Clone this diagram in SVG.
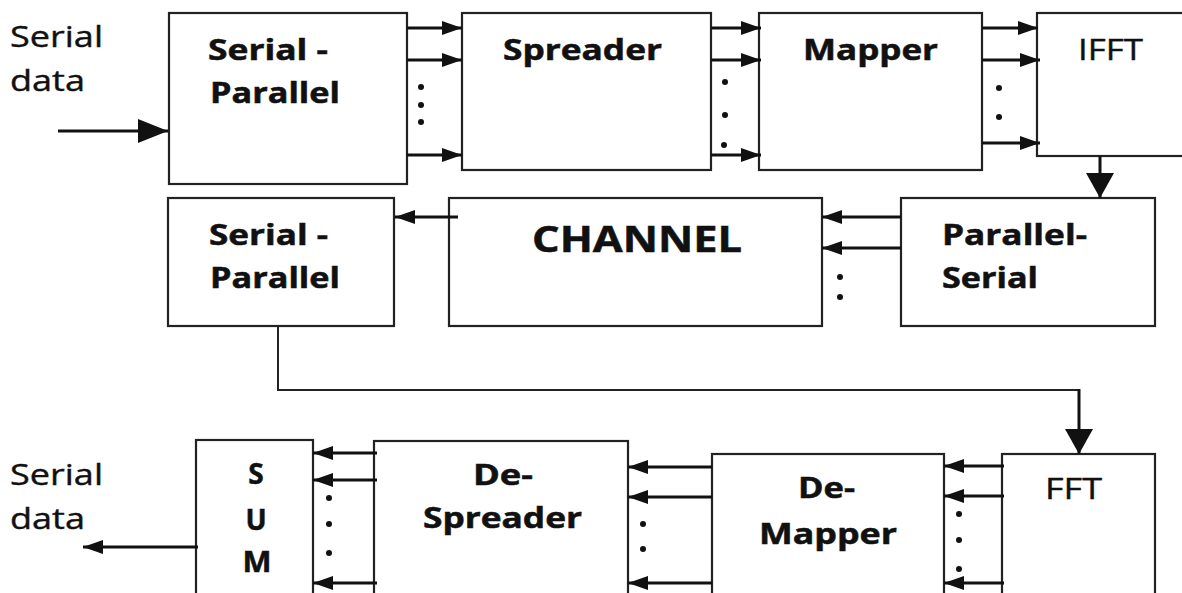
<svg xmlns="http://www.w3.org/2000/svg" width="1182" height="593" viewBox="0 0 1182 593">
<style>
.box{fill:#fff;stroke:#222;stroke-width:2.2}
.t{font-family:"Open Sans","Liberation Sans",sans-serif;font-size:29px;fill:#111;stroke:#111;stroke-width:0.4}
.b{font-weight:bold;font-size:28px;stroke-width:0.5}
.ar{stroke:#111;stroke-width:3;fill:none}
.thin{stroke:#222;stroke-width:2;fill:none}
.dot{fill:#111}
</style>
<defs>
<marker id="ah" markerUnits="userSpaceOnUse" markerWidth="22" markerHeight="16" refX="20" refY="7" orient="auto">
<path d="M0,0 L20,7 L0,14 z" fill="#111"/>
</marker>
<marker id="ahBig" markerUnits="userSpaceOnUse" markerWidth="32" markerHeight="26" refX="30" refY="12" orient="auto">
<path d="M0,0 L30,12 L0,24 z" fill="#111"/>
</marker>
<marker id="ahDown" markerUnits="userSpaceOnUse" markerWidth="28" markerHeight="30" refX="25" refY="14" orient="auto">
<path d="M0,0 L25,14 L0,28 z" fill="#111"/>
</marker>
</defs>

<text class="t" x="10" y="47" textLength="93" lengthAdjust="spacingAndGlyphs">Serial</text>
<text class="t" x="10" y="91" textLength="75" lengthAdjust="spacingAndGlyphs">data</text>
<text class="t" x="10" y="485" textLength="93" lengthAdjust="spacingAndGlyphs">Serial</text>
<text class="t" x="10" y="529" textLength="75" lengthAdjust="spacingAndGlyphs">data</text>

<g id="sp1">
<rect class="box" x="169" y="13" width="238" height="171"/>
<text class="t b" x="208" y="60" textLength="120" lengthAdjust="spacingAndGlyphs">Serial -</text>
<text class="t b" x="210" y="103" textLength="130" lengthAdjust="spacingAndGlyphs">Parallel</text>
</g>
<g id="spreader">
<rect class="box" x="462" y="13" width="249" height="157"/>
<text class="t b" x="503" y="60" textLength="159" lengthAdjust="spacingAndGlyphs">Spreader</text>
</g>
<g id="mapper">
<rect class="box" x="759" y="13" width="223" height="157"/>
<text class="t b" x="803" y="60" textLength="135" lengthAdjust="spacingAndGlyphs">Mapper</text>
</g>
<g id="ifft">
<rect class="box" x="1037" y="13" width="160" height="143"/>
<text class="t" x="1078" y="60" textLength="65" lengthAdjust="spacingAndGlyphs">IFFT</text>
</g>
<g id="ps">
<rect class="box" x="901" y="198" width="254" height="128"/>
<text class="t b" x="942" y="245" textLength="145" lengthAdjust="spacingAndGlyphs">Parallel-</text>
<text class="t b" x="942" y="288" textLength="96" lengthAdjust="spacingAndGlyphs">Serial</text>
</g>
<g id="channel">
<rect class="box" x="449" y="198" width="373" height="128"/>
<text class="t b" x="532" y="252" style="font-size:35px" textLength="210" lengthAdjust="spacingAndGlyphs">CHANNEL</text>
</g>
<g id="sp2">
<rect class="box" x="168" y="198" width="226" height="128"/>
<text class="t b" x="209" y="245" textLength="119" lengthAdjust="spacingAndGlyphs">Serial -</text>
<text class="t b" x="210" y="288" textLength="130" lengthAdjust="spacingAndGlyphs">Parallel</text>
</g>
<g id="sum">
<rect class="box" x="196" y="440" width="117" height="170"/>
<text class="t b" x="256" y="484" text-anchor="middle">S</text>
<text class="t b" x="256" y="530" text-anchor="middle">U</text>
<text class="t b" x="257" y="572" text-anchor="middle" textLength="29" lengthAdjust="spacingAndGlyphs">M</text>
</g>
<g id="despreader">
<rect class="box" x="374" y="441" width="254" height="170"/>
<text class="t b" x="473" y="485" textLength="60" lengthAdjust="spacingAndGlyphs">De-</text>
<text class="t b" x="423" y="528" textLength="159" lengthAdjust="spacingAndGlyphs">Spreader</text>
</g>
<g id="demapper">
<rect class="box" x="712" y="454" width="232" height="160"/>
<text class="t b" x="798" y="498" textLength="57" lengthAdjust="spacingAndGlyphs">De-</text>
<text class="t b" x="759" y="544" textLength="138" lengthAdjust="spacingAndGlyphs">Mapper</text>
</g>
<g id="fft">
<rect class="box" x="1002" y="454" width="153" height="160"/>
<text class="t" x="1045" y="499" textLength="57" lengthAdjust="spacingAndGlyphs">FFT</text>
</g>

<g id="connectors">
<line class="ar" x1="58" y1="131" x2="168" y2="131" marker-end="url(#ahBig)"/>
<line class="ar" x1="407" y1="28" x2="462" y2="28" marker-end="url(#ah)"/>
<line class="ar" x1="407" y1="60" x2="462" y2="60" marker-end="url(#ah)"/>
<line class="ar" x1="407" y1="155" x2="462" y2="155" marker-end="url(#ah)"/>
<line class="ar" x1="711" y1="28" x2="761" y2="28" marker-end="url(#ah)"/>
<line class="ar" x1="711" y1="60" x2="761" y2="60" marker-end="url(#ah)"/>
<line class="ar" x1="711" y1="155" x2="761" y2="155" marker-end="url(#ah)"/>
<line class="ar" x1="982" y1="28" x2="1038" y2="28" marker-end="url(#ah)"/>
<line class="ar" x1="982" y1="60" x2="1040" y2="60" marker-end="url(#ah)"/>
<line class="ar" x1="982" y1="143" x2="1040" y2="143" marker-end="url(#ah)"/>
<line class="ar" x1="1100" y1="156" x2="1100" y2="198" marker-end="url(#ahDown)"/>
<line class="ar" x1="901" y1="217" x2="822" y2="217" marker-end="url(#ah)"/>
<line class="ar" x1="901" y1="248" x2="822" y2="248" marker-end="url(#ah)"/>
<line class="ar" x1="458" y1="217" x2="395" y2="217" marker-end="url(#ah)"/>
<polyline class="thin" points="278,326 278,390 1079,390"/>
<line class="ar" x1="1079" y1="389" x2="1079" y2="454" marker-end="url(#ahDown)"/>
<line class="ar" x1="1004" y1="466" x2="944" y2="466" marker-end="url(#ah)"/>
<line class="ar" x1="1004" y1="496" x2="944" y2="496" marker-end="url(#ah)"/>
<line class="ar" x1="1004" y1="583" x2="944" y2="583" marker-end="url(#ah)"/>
<line class="ar" x1="712" y1="467" x2="628" y2="467" marker-end="url(#ah)"/>
<line class="ar" x1="712" y1="497" x2="628" y2="497" marker-end="url(#ah)"/>
<line class="ar" x1="712" y1="583" x2="628" y2="583" marker-end="url(#ah)"/>
<line class="ar" x1="377" y1="453" x2="313" y2="453" marker-end="url(#ah)"/>
<line class="ar" x1="377" y1="480" x2="313" y2="480" marker-end="url(#ah)"/>
<line class="ar" x1="377" y1="583" x2="313" y2="583" marker-end="url(#ah)"/>
<line class="ar" x1="198" y1="547" x2="83" y2="547" marker-end="url(#ah)"/>
</g>

<g id="dots">
<circle class="dot" cx="421" cy="87" r="3"/><circle class="dot" cx="421" cy="105" r="3"/><circle class="dot" cx="421" cy="122" r="3"/>
<circle class="dot" cx="725" cy="82" r="3"/><circle class="dot" cx="725" cy="115" r="3"/><circle class="dot" cx="724" cy="145" r="3"/>
<circle class="dot" cx="999" cy="88" r="3"/><circle class="dot" cx="999" cy="117" r="3"/>
<circle class="dot" cx="840" cy="277" r="3"/><circle class="dot" cx="840" cy="297" r="3"/>
<circle class="dot" cx="329" cy="498" r="3"/><circle class="dot" cx="329" cy="524" r="3"/><circle class="dot" cx="329" cy="553" r="3"/>
<circle class="dot" cx="643" cy="524" r="3"/><circle class="dot" cx="643" cy="549" r="3"/>
<circle class="dot" cx="959" cy="514" r="3"/><circle class="dot" cx="959" cy="540" r="3"/><circle class="dot" cx="959" cy="569" r="3"/>
</g>
</svg>
